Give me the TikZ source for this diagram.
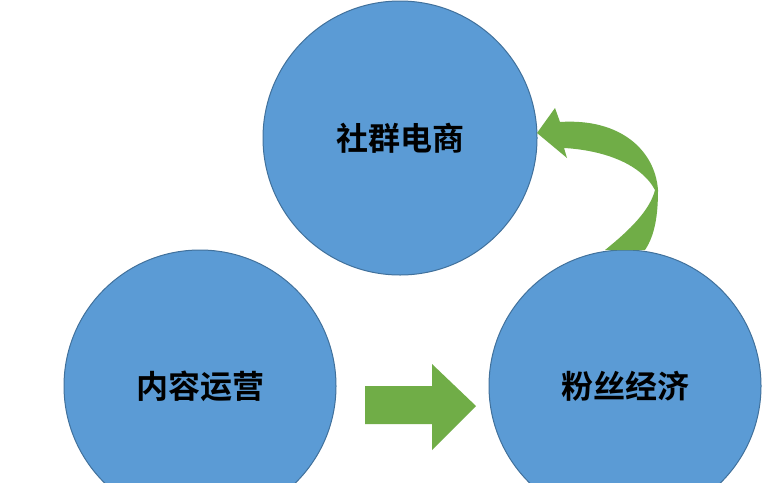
\documentclass[tikz,border=0pt]{standalone}
\usepackage{fontspec}
\newfontfamily\cjk[BoldFont={Noto Sans CJK SC Bold}]{Noto Sans CJK SC}
\definecolor{cblue}{HTML}{5B9BD5}
\definecolor{cedge}{HTML}{41719C}
\definecolor{cgreen}{HTML}{70AD47}
\definecolor{cgreendk}{HTML}{5A9A3A}
\begin{document}
\begin{tikzpicture}[x=1pt,y=-1pt,
  circ/.style={circle,fill=cblue,draw=cedge,line width=1pt,minimum size=#1,inner sep=0pt,font=\cjk\bfseries\fontsize{32}{32}\selectfont,text=black}]
\useasboundingbox[fill=white] (0,0) rectangle (783,482);
\node[circ=274pt] (top) at (400,138) {社群电商};
\node[circ=272pt] (left) at (200,386) {内容运营};
\node[circ=272pt] (right) at (625,386) {粉丝经济};
% straight arrow
\fill[cgreen] (365,386) -- (432,386) -- (432,364) -- (476,406) -- (432,450) -- (432,424) -- (365,424) -- cycle;
% curved arrow
\fill[cgreen] (537,133) -- (555,108) -- (560,122)
  .. controls (620,118) and (655,150) .. (658,190)
  .. controls (658,215) and (655,235) .. (645,250)
  -- (605,250)
  .. controls (630,230) and (650,210) .. (655,190)
  .. controls (640,162) and (600,150) .. (564,148)
  -- (567,158) -- cycle;
\end{tikzpicture}
\end{document}
